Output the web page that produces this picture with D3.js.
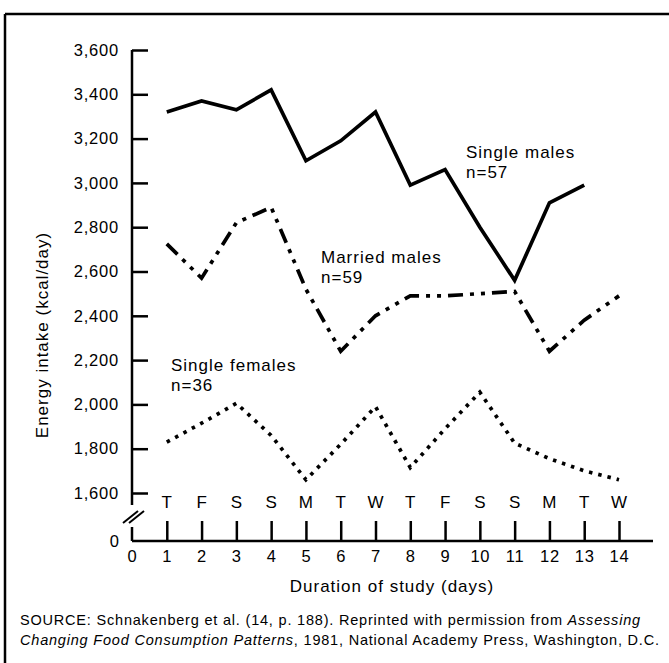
<!DOCTYPE html>
<html>
<head>
<meta charset="utf-8">
<script src="https://cdn.jsdelivr.net/npm/d3@7"></script>
<style>
  body { margin: 0; background: #fff; }
  svg { display: block; font-family: "Liberation Sans", Arial, Helvetica, sans-serif; }
  .axis path, .axis line { stroke: #000; stroke-width: 2.5; }
  .axis text { font-size: 16.5px; letter-spacing: 0.8px; fill: #000; }
</style>
</head>
<body>
<svg class="chart" width="669" height="663"></svg>
<script>
// data (kcal/day)
var days = d3.range(1, 15);
var dayNames = ["T", "F", "S", "S", "M", "T", "W", "T", "F", "S", "S", "M", "T", "W"];
var yTicks = [1600, 1800, 2000, 2200, 2400, 2600, 2800, 3000, 3200, 3400, 3600];

var singleMales = [3320, 3370, 3330, 3420, 3100, 3190, 3320, 2990, 3060, 2800, 2560, 2910, 2990];
var marriedMales = [2725, 2570, 2820, 2890, 2520, 2240, 2400, 2490, 2490, 2500, 2510, 2240, 2380, 2490];
var singleFemales = [1830, 1915, 2005, 1860, 1660, 1820, 1990, 1715, 1890, 2055, 1825, 1755, 1700, 1660];

var series = [
  {name: "Single males", n: "n=57", values: singleMales, dash: null, lx: 466, ly: 152},
  {name: "Married males", n: "n=59", values: marriedMales, dash: "15,7,4,7,4,7", lx: 321, ly: 257},
  {name: "Single females", n: "n=36", values: singleFemales, dash: "3.5,6", lx: 171, ly: 365}
];

var svg = d3.select(".chart");

var x = d3.scaleLinear().domain([0, 14]).range([132, 619]);
var y = d3.scaleLinear().domain([1600, 3600]).range([493, 50]);
var baseY = 541;

// frame
svg.append("line").attr("x1", 5).attr("x2", 669).attr("y1", 14).attr("y2", 14)
  .attr("stroke", "#000").attr("stroke-width", 2.5);
svg.append("line").attr("x1", 5).attr("x2", 5).attr("y1", 14).attr("y2", 663)
  .attr("stroke", "#000").attr("stroke-width", 2.5);

// y axis (upper part)
var yAxis = d3.axisLeft(y)
  .tickValues(yTicks)
  .tickFormat(d3.format(","))
  .tickSize(-16)
  .tickSizeOuter(0)
  .tickPadding(13);

svg.append("g")
  .attr("class", "axis")
  .attr("transform", "translate(" + x(0) + ",0)")
  .call(yAxis)
  .call(function(g) { g.select(".domain").attr("d", "M0," + y(3600) + "V" + (y(1600) + 12)); });

// broken part of the y axis down to zero
svg.append("line").attr("x1", x(0)).attr("x2", x(0)).attr("y1", baseY - 14).attr("y2", baseY)
  .attr("stroke", "#000").attr("stroke-width", 2.5);
[0, 6].forEach(function(o) {
  svg.append("line")
    .attr("x1", x(0) - 9 + o).attr("y1", y(1600) + 30)
    .attr("x2", x(0) + 6 + o).attr("y2", y(1600) + 18)
    .attr("stroke", "#000").attr("stroke-width", 2);
});
svg.append("text").attr("x", x(0) - 13).attr("y", baseY).attr("dy", "0.35em")
  .attr("text-anchor", "end").style("font-size", "16.5px").text("0");

// x axis
var xAxis = d3.axisBottom(x)
  .tickValues(d3.range(0, 15))
  .tickSize(-20)
  .tickSizeOuter(0)
  .tickPadding(8);

var gx = svg.append("g")
  .attr("class", "axis")
  .attr("transform", "translate(0," + baseY + ")")
  .call(xAxis);
gx.select(".domain").attr("d", "M" + x(0) + ",0H653");
gx.selectAll(".tick").filter(function(d) { return d === 0; }).select("line").remove();
gx.selectAll(".tick text").attr("y", 9);

// weekday letters
svg.append("g").selectAll("text")
  .data(days)
  .enter().append("text")
  .attr("x", function(d) { return x(d); })
  .attr("y", 502)
  .attr("dy", "0.35em")
  .attr("text-anchor", "middle")
  .style("font-size", "17px")
  .text(function(d, i) { return dayNames[i]; });

// axis titles
svg.append("text")
  .attr("x", 392).attr("y", 586).attr("dy", "0.35em")
  .attr("text-anchor", "middle").style("font-size", "17px").style("letter-spacing", "1px")
  .text("Duration of study (days)");

svg.append("text")
  .attr("transform", "translate(42,335) rotate(-90)")
  .attr("dy", "0.35em")
  .attr("text-anchor", "middle").style("font-size", "17px").style("letter-spacing", "1px")
  .text("Energy intake (kcal/day)");

// lines
var line = d3.line()
  .x(function(d, i) { return x(i + 1); })
  .y(function(d) { return y(d); });

series.forEach(function(s) {
  svg.append("path")
    .datum(s.values)
    .attr("d", line)
    .attr("fill", "none")
    .attr("stroke", "#000")
    .attr("stroke-width", 3.7)
    .attr("stroke-dasharray", s.dash);

  var t = svg.append("text").attr("x", s.lx).attr("y", s.ly)
    .style("font-size", "17px").style("letter-spacing", "1px");
  t.append("tspan").attr("x", s.lx).attr("dy", "0.35em").text(s.name);
  t.append("tspan").attr("x", s.lx).attr("dy", "1.15em").text(s.n);
});

// source note
var src = svg.append("g").style("font-size", "14.5px").style("letter-spacing", "0.8px");
var l1 = src.append("text").attr("x", 20).attr("y", 620).attr("dy", "0.35em");
l1.append("tspan").text("SOURCE: Schnakenberg et al. (14, p. 188). Reprinted with permission from ");
l1.append("tspan").style("font-style", "italic").text("Assessing");
var l2 = src.append("text").attr("x", 20).attr("y", 640).attr("dy", "0.35em");
l2.append("tspan").style("font-style", "italic").text("Changing Food Consumption Patterns");
l2.append("tspan").text(", 1981, National Academy Press, Washington, D.C.");
</script>
</body>
</html>
